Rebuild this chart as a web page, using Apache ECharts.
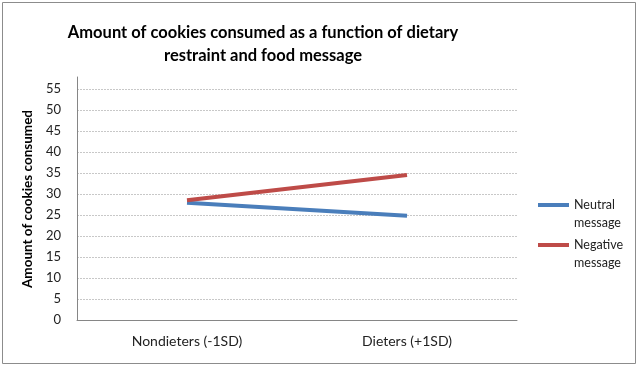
<!DOCTYPE html>
<html><head><meta charset="utf-8">
<script src="https://cdn.jsdelivr.net/npm/echarts@6/dist/echarts.min.js"></script>
<style>html,body{margin:0;padding:0;background:#fff}#c{width:639px;height:367px}</style>
</head><body><div id="c"></div>
<script>
const categories = ["Nondieters (-1SD)", "Dieters (+1SD)"];
const neutralMessage = [27.9, 24.8];
const negativeMessage = [28.5, 34.5];
const seriesNames = ["Neutral\nmessage", "Negative\nmessage"];
const yTicks = [0, 5, 10, 15, 20, 25, 30, 35, 40, 45, 50, 55];

const chart = echarts.init(document.getElementById('c'), null, {renderer: 'canvas'});
const font = "Lato, Open Sans, sans-serif";
chart.setOption({
  animation: false,
  backgroundColor: '#fff',
  title: {
    text: "Amount of cookies consumed as a function of dietary\nrestraint and food message",
    left: 258, top: 16, textAlign: 'center',
    textStyle: {fontFamily: font, fontSize: 16.5, fontWeight: 'bold', color: '#000', lineHeight: 23}
  },
  legend: {
    orient: 'vertical', left: 533, top: 173, itemGap: -14,
    itemWidth: 31, itemHeight: 4, icon: 'rect',
    data: seriesNames,
    formatter: n => '\u00a0\n' + n,
    textStyle: {fontFamily: font, fontSize: 12.5, color: '#222', lineHeight: 18}
  },
  graphic: [{type: 'rect', shape: {x: 2.5, y: 2.5, width: 633, height: 361}, style: {fill: null, stroke: '#8c8c8c', lineWidth: 1}, silent: true}],
  grid: [
    {left: 77, top: 89, width: 440, height: 231},
    {left: 77, top: 77, width: 440, height: 243}
  ],
  xAxis: [
    {type: 'category', gridIndex: 0, data: categories, boundaryGap: true,
     axisLine: {lineStyle: {color: '#868686', width: 1}}, axisTick: {show: false},
     axisLabel: {fontFamily: font, fontSize: 14, color: '#222', margin: 14}},
    {type: 'category', gridIndex: 1, data: categories, show: false}
  ],
  yAxis: [
    {type: 'value', gridIndex: 0, min: yTicks[0], max: yTicks[yTicks.length-1], interval: 5,
     axisLine: {show: false}, axisTick: {show: false},
     axisLabel: {fontFamily: font, fontSize: 13, color: '#222', margin: 16},
     splitLine: {lineStyle: {color: '#c8c8c8', type: [2, 1], width: 1}},
     name: 'Amount of cookies consumed', nameLocation: 'middle', nameGap: 30, nameRotate: 90,
     nameTextStyle: {fontFamily: font, fontSize: 13.5, fontWeight: 'bold', color: '#000', padding: [0, 0, 0, 11]}},
    {type: 'value', gridIndex: 1, min: 0, max: 1,
     axisLine: {show: true, lineStyle: {color: '#868686', width: 1}}, axisTick: {show: false},
     axisLabel: {show: false}, splitLine: {show: false}}
  ],
  series: [
    {name: seriesNames[0], type: 'line', data: neutralMessage, symbol: 'none',
     lineStyle: {color: '#4a7ebb', width: 4}, itemStyle: {color: '#4a7ebb'}, z: 3},
    {name: seriesNames[1], type: 'line', data: negativeMessage, symbol: 'none',
     lineStyle: {color: '#be4b48', width: 4}, itemStyle: {color: '#be4b48'}, z: 4}
  ]
});
</script></body></html>
